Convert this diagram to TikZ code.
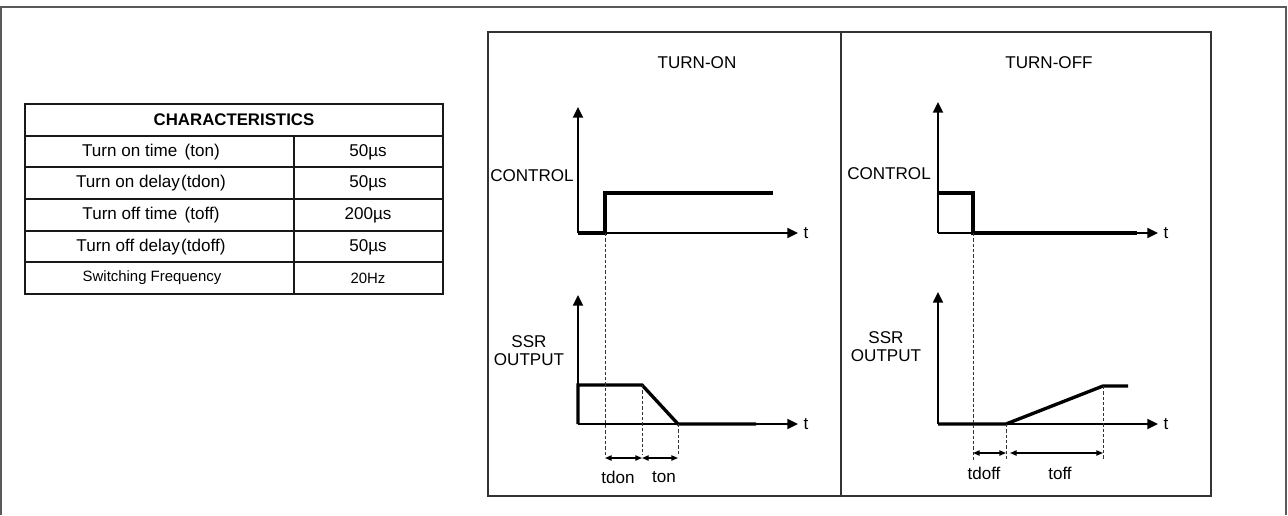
\documentclass[tikz,border=0pt]{standalone}
\usepackage{fontspec}
\setmainfont{Liberation Sans}
\usetikzlibrary{arrows.meta,positioning}

\tikzset{
    axis/.style={line width=1.6pt, -{Triangle[length=8pt,width=7.5pt]}},
    signal/.style={line width=2.5pt, line join=miter},
    guide/.style={line width=0.6pt, black!80, dash pattern=on 2.5pt off 1.5pt},
    dimarrow/.style={line width=1pt, {Triangle[length=5pt,width=4pt]}-{Triangle[length=5pt,width=4pt]}},
    lbl/.style={font=\fontsize{12.8}{13.5}\selectfont, inner sep=0pt, align=center},
    small/.style={font=\fontsize{11.2}{13}\selectfont, inner sep=0pt},
    tableline/.style={line width=2pt, black!90},
    boxline/.style={line width=1.5pt, black!80}
}

\begin{document}
\begin{tikzpicture}[x=0.75pt, y=-0.75pt]
\useasboundingbox (0,0) rectangle (1288,515);

% Outer frame (open at the bottom)
\draw[line width=1.5pt, black!65] (1,515) -- (1,7) -- (1286,7) -- (1286,515);

% Characteristics table
\draw[tableline] (25,104) rectangle (443,294);
\foreach \y in {136,167,199,231,262} {
    \draw[tableline] (25,\y) -- (443,\y);
}
\draw[tableline] (294,136) -- (294,294);
\node[lbl, font=\fontsize{12.6}{14}\selectfont\bfseries] (title) at (234,120) {CHARACTERISTICS};
\node[lbl] (ton) at (151,152) {Turn on time\kern2pt\ (ton)};
\node[lbl] (tdon) at (151,183) {Turn on delay\kern1pt(tdon)};
\node[lbl] (toff) at (151,215) {Turn off time\kern2pt\ (toff)};
\node[lbl] (tdoff) at (151,247) {Turn off delay\kern1pt(tdoff)};
\node[small] (freq) at (152,278) {Switching Frequency};
\node[lbl] (tonval) at (368,152) {50µs};
\node[lbl] (tdonval) at (368,183) {50µs};
\node[lbl] (toffval) at (368,215) {200µs};
\node[lbl] (tdoffval) at (368,247) {50µs};
\node[small] (freqval) at (368,278) {20Hz};

% Waveform box
\draw[boxline] (488,32) rectangle (1211,496);
\draw[line width=1.2pt, black!80] (841,32) -- (841,496);

% ---------------- Turn-on panel ----------------
\node[lbl] (onTitle) at (697,63) {TURN-ON};

% Control
\coordinate (onC) at (578,233);
\coordinate (onCtop) at (578,107);
\coordinate (onCend) at (798,233);
\draw[axis] (onC) -- (onCtop);
\draw[axis] (onC) -- (onCend);
\node[lbl, right=4pt of onCend] (onCt) {t};
\node[lbl, anchor=east] (onCtrl) at (574,176) {CONTROL};
\coordinate (onStep) at (605,233);
\draw[signal] (onC) -- (onStep) -- (605,193) -- (773,193);

% SSR output
\coordinate (onS) at (578,424);
\coordinate (onStop) at (578,295);
\coordinate (onSend) at (798,424);
\draw[axis] (onS) -- (onStop);
\draw[axis] (onS) -- (onSend);
\node[lbl, right=4pt of onSend] (onSt) {t};
\node[lbl] (onSsr) at (529,351) {SSR\\OUTPUT};
\coordinate (onFall) at (642,385);
\coordinate (onLow) at (678,424);
\draw[signal] (onS) -- (578,385) -- (onFall) -- (onLow) -- (756,424);

% Timing guides
\draw[guide] (onStep) -- (605,455);
\draw[guide] (onFall) -- (642,455);
\draw[guide] (onLow) -- (678,455);
\draw[dimarrow] (605,458) -- (642,458);
\draw[dimarrow] (642,458) -- (678,458);
\node[lbl] (onTdon) at (618,477) {tdon};
\node[lbl] (onTon) at (664,477) {ton};

% ---------------- Turn-off panel ----------------
\node[lbl] (offTitle) at (1049,63) {TURN-OFF};

% Control
\coordinate (offC) at (938,233);
\coordinate (offCtop) at (938,102);
\coordinate (offCend) at (1158,233);
\draw[axis] (offC) -- (offCtop);
\draw[axis] (offC) -- (offCend);
\node[lbl, right=4pt of offCend] (offCt) {t};
\node[lbl, anchor=east] (offCtrl) at (931,174) {CONTROL};
\coordinate (offStep) at (973,233);
\draw[signal] (938,193) -- (973,193) -- (offStep) -- (1137,233);

% SSR output
\coordinate (offS) at (938,424);
\coordinate (offStop) at (938,292);
\coordinate (offSend) at (1158,424);
\draw[axis] (offS) -- (offStop);
\draw[axis] (offS) -- (offSend);
\node[lbl, right=4pt of offSend] (offSt) {t};
\node[lbl] (offSsr) at (886,347) {SSR\\OUTPUT};
\coordinate (offRise) at (1006,424);
\coordinate (offHigh) at (1103,386);
\draw[signal] (offS) -- (offRise) -- (offHigh) -- (1128,386);

% Timing guides
\draw[guide] (offStep) -- (973,460);
\draw[guide] (offRise) -- (1006,460);
\draw[guide] (offHigh) -- (1103,460);
\draw[dimarrow] (973,453) -- (1006,453);
\draw[dimarrow] (1010,453) -- (1103,453);
\node[lbl] (offTdoff) at (984,473) {tdoff};
\node[lbl] (offToff) at (1060,473) {toff};

\end{tikzpicture}
\end{document}
